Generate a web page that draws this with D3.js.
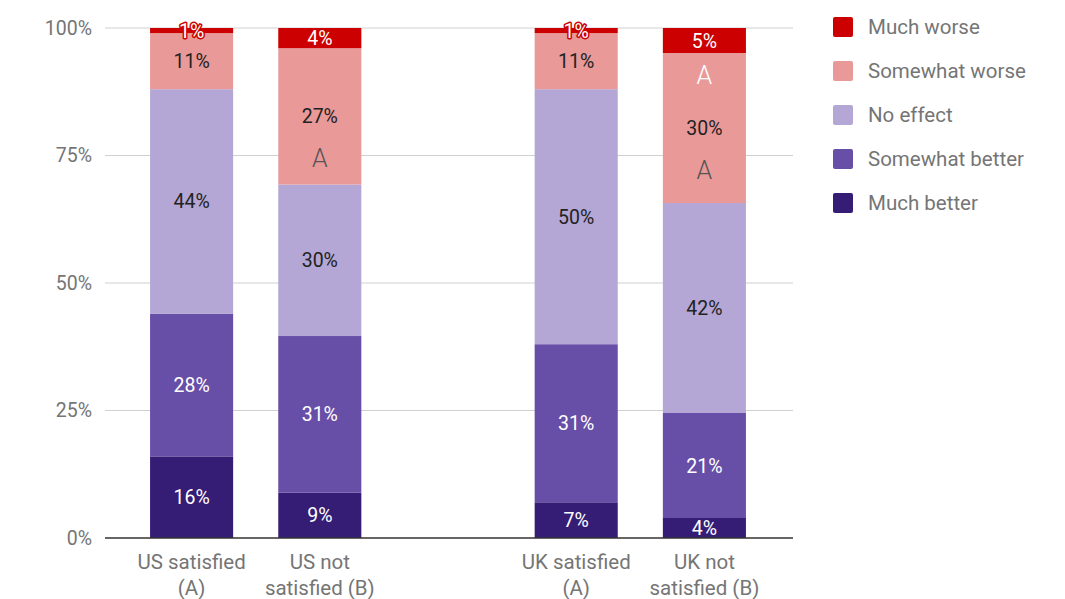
<!DOCTYPE html>
<html><head><meta charset="utf-8">
<script src="https://cdn.jsdelivr.net/npm/d3@7"></script>
<style>
html,body{margin:0;padding:0;background:#fff;}
svg text{font-family:Roboto,"Noto Sans",sans-serif;}
</style></head>
<body>
<svg id="chart" width="1065" height="599"></svg>
<script>
const categories = ["US satisfied (A)", "US not satisfied (B)", "", "UK satisfied (A)", "UK not satisfied (B)"];
const categoryLines = [["US satisfied","(A)"],["US not","satisfied (B)"],[],["UK satisfied","(A)"],["UK not","satisfied (B)"]];
const seriesNames = ["Much better","Somewhat better","No effect","Somewhat worse","Much worse"];
const muchBetter     = [16, 9, null, 7, 4];
const somewhatBetter = [28, 31, null, 31, 21];
const noEffect       = [44, 30, null, 50, 42];
const somewhatWorse  = [11, 27, null, 11, 30];
const muchWorse      = [1, 4, null, 1, 5];
const yTicks = [0, 0.25, 0.5, 0.75, 1];
// significance letters: [category index, series index, position relative to value label]
const sigMarks = [[1, 3, "below"], [4, 3, "above"], [4, 3, "below"]];

const colors = ["#351c75", "#674ea7", "#b4a7d6", "#ea9999", "#cc0000"];
const labelColors = ["#fff", "#fff", "#222", "#222", "#fff"];

const seriesValues = [muchBetter, somewhatBetter, noEffect, somewhatWorse, muchWorse];
const rows = categories.map((c, i) => {
  const r = {cat: c};
  seriesNames.forEach((s, j) => r[s] = seriesValues[j][i] || 0);
  return r;
});

const svg = d3.select("#chart");
const x = d3.scaleBand().domain(categories).range([127.5, 768.5]).paddingInner(0.352).paddingOuter(0.176);
const y = d3.scaleLinear().domain([0, 1]).range([538, 28]);

const stack = d3.stack().keys(seriesNames).offset(d3.stackOffsetExpand);
const stacked = stack(rows.map(r => r.cat === "" ? Object.assign({}, r, {"No effect": 1e-9}) : r));

// grid
svg.append("g").selectAll("line").data(yTicks.filter(t => t > 0)).join("line")
  .attr("x1", 105).attr("x2", 793)
  .attr("y1", d => y(d)).attr("y2", d => y(d))
  .attr("stroke", "#d0d0d0").attr("stroke-width", 1);

// y axis labels
svg.append("g").selectAll("text").data(yTicks).join("text")
  .attr("x", 92).attr("y", d => y(d)).attr("dy", "0.35em")
  .attr("text-anchor", "end").attr("fill", "#757575").attr("font-size", 19.5)
  .text(d => d3.format(".0%")(d));

// bars
const g = svg.append("g");
stacked.forEach((layer, j) => {
  g.append("g").selectAll("rect").data(layer.filter(d => d.data.cat !== "")).join("rect")
    .attr("x", d => x(d.data.cat))
    .attr("width", x.bandwidth())
    .attr("y", d => y(d[1]))
    .attr("height", d => y(d[0]) - y(d[1]))
    .attr("fill", colors[j]);
});

// labels
stacked.forEach((layer, j) => {
  layer.filter(d => d.data.cat !== "").forEach(d => {
    const v = d.data[seriesNames[j]];
    const cx = x(d.data.cat) + x.bandwidth() / 2;
    const h = y(d[0]) - y(d[1]);
    const cy = (y(d[0]) + y(d[1])) / 2;
    const t = svg.append("text")
      .attr("x", cx).attr("y", cy).attr("dy", "0.36em")
      .attr("text-anchor", "middle").attr("font-size", 19.5)
      .attr("fill", labelColors[j]).text(v + "%");
    if (h < 10) {
      t.attr("stroke", colors[j]).attr("stroke-width", 3).attr("paint-order", "stroke").attr("stroke-linejoin", "round");
    }
  });
});

// significance letters
sigMarks.forEach(([ci, si, pos]) => {
  const d = stacked[si][ci];
  const cx = x(categories[ci]) + x.bandwidth() / 2;
  const cy = (y(d[0]) + y(d[1])) / 2;
  svg.append("text")
    .attr("x", cx).attr("y", cy + (pos === "below" ? 42 : -53)).attr("dy", "0.36em")
    .attr("text-anchor", "middle").attr("font-size", 25).attr("font-weight", 300)
    .attr("fill", pos === "above" ? "#fff" : "#555").text("A");
});

// baseline
svg.append("line").attr("x1", 105).attr("x2", 793).attr("y1", y(0)).attr("y2", y(0))
  .attr("stroke", "#333").attr("stroke-width", 1.5);

// x labels
categories.forEach((c, i) => {
  if (!c) return;
  const t = svg.append("text").attr("text-anchor", "middle").attr("fill", "#757575").attr("font-size", 20.5);
  categoryLines[i].forEach((ln, k) => {
    t.append("tspan").attr("x", x(c) + x.bandwidth() / 2).attr("y", 569 + k * 26).text(ln);
  });
});

// legend
const legendOrder = seriesNames.slice().reverse();
const lg = svg.append("g");
legendOrder.forEach((s, k) => {
  const j = seriesNames.indexOf(s);
  const cy = 27 + k * 44;
  lg.append("rect").attr("x", 833).attr("y", cy - 10).attr("width", 20).attr("height", 20)
    .attr("rx", 2).attr("fill", colors[j]);
  lg.append("text").attr("x", 868).attr("y", cy).attr("dy", "0.35em")
    .attr("fill", "#757575").attr("font-size", 20.5).text(s);
});
</script>
</body></html>
